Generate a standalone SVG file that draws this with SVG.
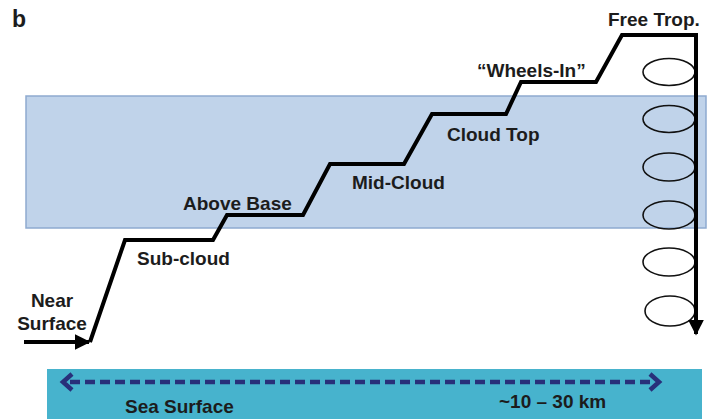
<svg xmlns="http://www.w3.org/2000/svg" width="728" height="419" viewBox="0 0 728 419">
  <defs>
    <style>
      .lbl { font-family: "Liberation Sans", Arial, sans-serif; font-weight: bold; font-size: 19px; fill: #1c1c1c; }
      .loop { fill: none; stroke: #111; stroke-width: 1.6; }
      .track { fill: none; stroke: #000; stroke-width: 4; stroke-linejoin: miter; }
      .scale { fill: none; stroke: #28307a; stroke-width: 4.5; stroke-dasharray: 10 5; }
      .chev { fill: none; stroke: #28307a; stroke-width: 4.5; stroke-linejoin: miter; }
    </style>
    <marker id="head" viewBox="0 0 10 10" refX="9" refY="5" markerWidth="4" markerHeight="4" orient="auto" markerUnits="strokeWidth">
      <path d="M0,0 L10,5 L0,10 z" fill="#000"/>
    </marker>
  </defs>

  <rect width="728" height="419" fill="#ffffff"/>

  <!-- panel letter -->
  <text x="12" y="27" font-family="Liberation Sans, Arial, sans-serif" font-weight="bold" font-size="23" fill="#1c1c1c">b</text>

  <!-- cloud layer -->
  <g id="cloud-layer">
    <rect x="26" y="96" width="680" height="132" fill="#c0d3ea" stroke="#8eaad0" stroke-width="1.5"/>
  </g>

  <!-- sea surface band -->
  <g id="sea-surface">
    <rect x="47" y="369" width="655" height="52" fill="#47b3cd"/>
    <text class="lbl" x="125" y="413">Sea Surface</text>
    <text class="lbl" x="499" y="408" font-size="18">~10 – 30 km</text>
  </g>

  <!-- spiral descent loops -->
  <g id="spiral">
    <ellipse class="loop" cx="669" cy="72" rx="26" ry="13.5"/>
    <ellipse class="loop" cx="669" cy="119" rx="26" ry="13.5"/>
    <ellipse class="loop" cx="669" cy="167" rx="26" ry="14"/>
    <ellipse class="loop" cx="669" cy="215" rx="26" ry="14"/>
    <ellipse class="loop" cx="669" cy="262" rx="26" ry="14"/>
    <ellipse class="loop" cx="670" cy="311" rx="25" ry="15"/>
  </g>

  <!-- connectors: flight track and horizontal scale -->
  <g id="connectors">
    <line class="track" x1="24" y1="342" x2="89" y2="342" marker-end="url(#head)"/>
    <polyline class="track" points="90,342 125,240 213,240 227,215 303,215 330,164 404,164 432,114 506,114 521,82 596,82 622,35 696,35 696,334" marker-end="url(#head)"/>
    <line class="scale" x1="70" y1="382" x2="652" y2="382"/>
    <polyline class="chev" points="72,374 63,382 72,390"/>
    <polyline class="chev" points="650,374 659,382 650,390"/>
  </g>

  <!-- level labels -->
  <g id="labels">
    <text class="lbl" x="52" y="307" text-anchor="middle">Near</text>
    <text class="lbl" x="52" y="330" text-anchor="middle">Surface</text>
    <text class="lbl" x="137" y="265">Sub-cloud</text>
    <text class="lbl" x="183" y="210">Above Base</text>
    <text class="lbl" x="352" y="189">Mid-Cloud</text>
    <text class="lbl" x="447" y="141">Cloud Top</text>
    <text class="lbl" x="477" y="77">“Wheels-In”</text>
    <text class="lbl" x="608" y="26">Free Trop.</text>
  </g>
</svg>
